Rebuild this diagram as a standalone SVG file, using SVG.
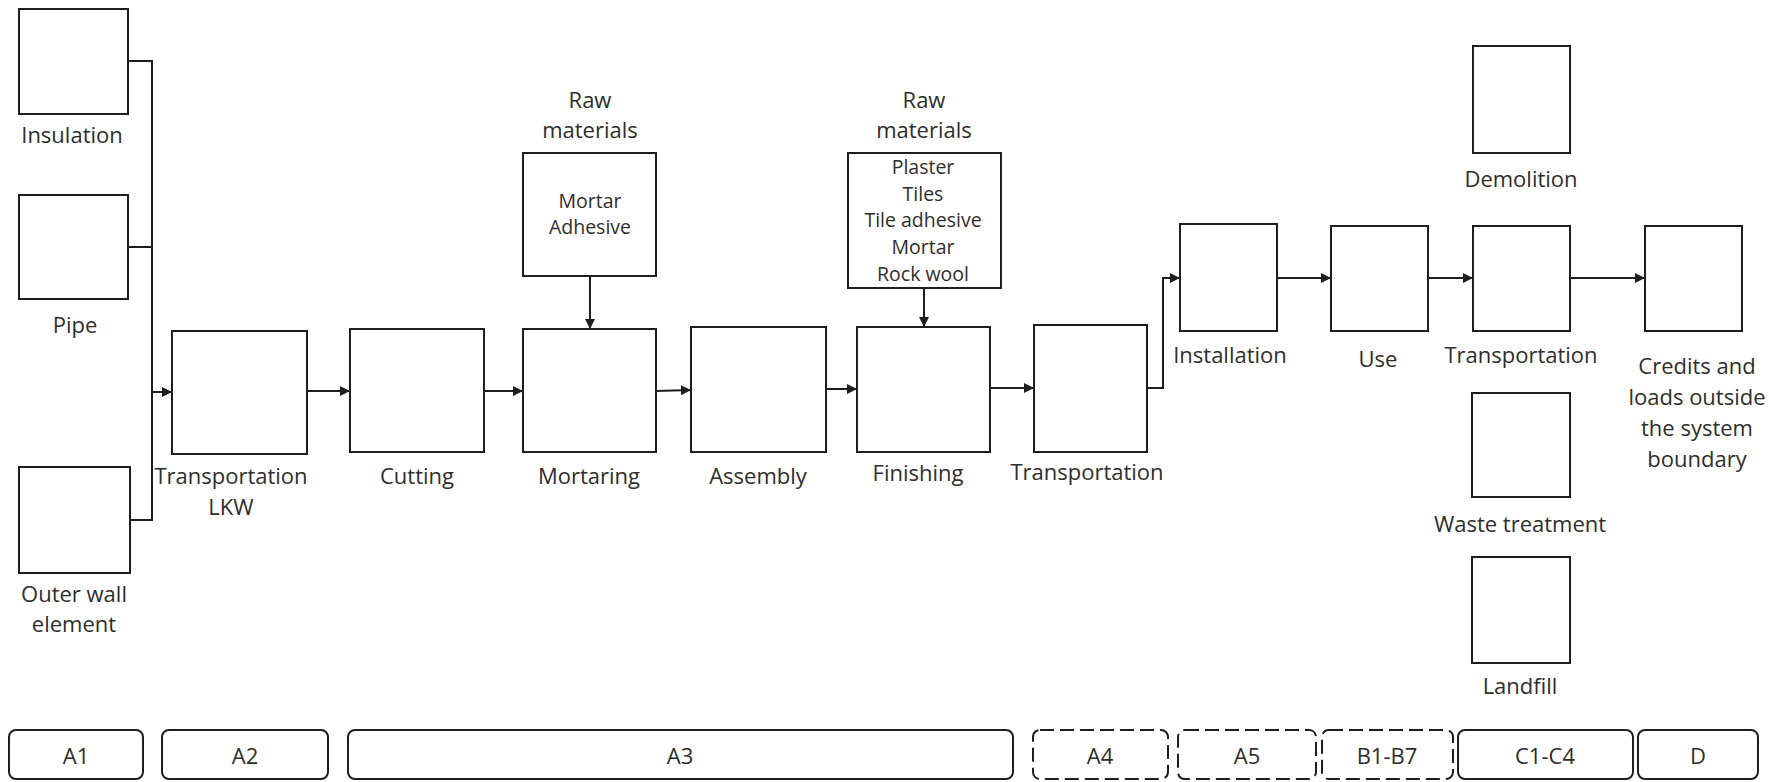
<svg xmlns="http://www.w3.org/2000/svg" width="1769" height="782" viewBox="0 0 1769 782">
<style>
.box{fill:#fff;stroke:#1e1e1e;stroke-width:2}
.bar{fill:#fff;stroke:#1e1e1e;stroke-width:2}
.dash{fill:#fff;stroke:#1e1e1e;stroke-width:2;stroke-dasharray:14 6}
.lbl{font-family:"Open Sans","Liberation Sans",sans-serif;font-size:22px;fill:#2e2e2e;text-anchor:middle}
.in{font-family:"Open Sans","Liberation Sans",sans-serif;font-size:19.5px;fill:#2e2e2e;text-anchor:middle}
.con{fill:none;stroke:#1e1e1e;stroke-width:2}
.arr{fill:none;stroke:#1e1e1e;stroke-width:2;marker-end:url(#ah)}
</style>
<defs>
<marker id="ah" viewBox="0 0 10 10" refX="10" refY="5" markerWidth="11" markerHeight="10" markerUnits="userSpaceOnUse" orient="auto">
<path d="M0,0 L10,5 L0,10 z" fill="#1e1e1e"/>
</marker>
</defs>
<rect width="1769" height="782" fill="#fff"/>

<g id="connectors">
<polyline class="con" points="128,61 152,61 152,520 130,520"/>
<line class="con" x1="128" y1="247" x2="152" y2="247"/>
<line class="arr" x1="152" y1="392" x2="172" y2="392"/>
<line class="arr" x1="307" y1="391" x2="350" y2="391"/>
<line class="arr" x1="484" y1="391" x2="523" y2="391"/>
<line class="arr" x1="656" y1="391" x2="691" y2="390"/>
<line class="arr" x1="590" y1="276" x2="590" y2="329"/>
<line class="arr" x1="826" y1="389" x2="857" y2="389"/>
<line class="arr" x1="924" y1="288" x2="924" y2="327"/>
<line class="arr" x1="990" y1="388" x2="1034" y2="388"/>
<polyline class="arr" points="1147,388 1163,388 1163,278 1180,278"/>
<line class="arr" x1="1277" y1="278" x2="1331" y2="278"/>
<line class="arr" x1="1428" y1="278" x2="1473" y2="278"/>
<line class="arr" x1="1570" y1="278" x2="1645" y2="278"/>
</g>

<g id="insulation"><rect class="box" x="19" y="9" width="109" height="105"/><text class="lbl" x="72" y="143">Insulation</text></g>
<g id="pipe"><rect class="box" x="19" y="195" width="109" height="104"/><text class="lbl" x="75" y="333">Pipe</text></g>
<g id="outer-wall"><rect class="box" x="19" y="467" width="111" height="106"/><text class="lbl" x="74" y="602">Outer wall</text><text class="lbl" x="74" y="632">element</text></g>
<g id="transport-lkw"><rect class="box" x="172" y="331" width="135" height="123"/><text class="lbl" x="231" y="484">Transportation</text><text class="lbl" x="231" y="515">LKW</text></g>
<g id="cutting"><rect class="box" x="350" y="329" width="134" height="123"/><text class="lbl" x="417" y="484">Cutting</text></g>
<g id="raw1"><text class="lbl" x="590" y="108">Raw</text><text class="lbl" x="590" y="138">materials</text><rect class="box" x="523" y="153" width="133" height="123"/><text class="in" x="590" y="208">Mortar</text><text class="in" x="590" y="234">Adhesive</text></g>
<g id="mortaring"><rect class="box" x="523" y="329" width="133" height="123"/><text class="lbl" x="589" y="484">Mortaring</text></g>
<g id="assembly"><rect class="box" x="691" y="327" width="135" height="125"/><text class="lbl" x="758" y="484">Assembly</text></g>
<g id="raw2"><text class="lbl" x="924" y="108">Raw</text><text class="lbl" x="924" y="138">materials</text><rect class="box" x="848" y="153" width="153" height="135"/><text class="in" x="923" y="174">Plaster</text><text class="in" x="923" y="201">Tiles</text><text class="in" x="923" y="227">Tile adhesive</text><text class="in" x="923" y="254">Mortar</text><text class="in" x="923" y="281">Rock wool</text></g>
<g id="finishing"><rect class="box" x="857" y="327" width="133" height="125"/><text class="lbl" x="918" y="481">Finishing</text></g>
<g id="transport-a4"><rect class="box" x="1034" y="325" width="113" height="127"/><text class="lbl" x="1087" y="480">Transportation</text></g>
<g id="installation"><rect class="box" x="1180" y="224" width="97" height="107"/><text class="lbl" x="1230" y="363">Installation</text></g>
<g id="use"><rect class="box" x="1331" y="226" width="97" height="105"/><text class="lbl" x="1378" y="367">Use</text></g>
<g id="demolition"><rect class="box" x="1473" y="46" width="97" height="107"/><text class="lbl" x="1521" y="187">Demolition</text></g>
<g id="transport-c"><rect class="box" x="1473" y="226" width="97" height="105"/><text class="lbl" x="1521" y="363">Transportation</text></g>
<g id="waste"><rect class="box" x="1472" y="393" width="98" height="104"/><text class="lbl" x="1520" y="532">Waste treatment</text></g>
<g id="landfill"><rect class="box" x="1472" y="557" width="98" height="106"/><text class="lbl" x="1520" y="694">Landfill</text></g>
<g id="credits"><rect class="box" x="1645" y="226" width="97" height="105"/><text class="lbl" x="1697" y="374">Credits and</text><text class="lbl" x="1697" y="405">loads outside</text><text class="lbl" x="1697" y="436">the system</text><text class="lbl" x="1697" y="467">boundary</text></g>

<g id="stages">
<g id="stage-a1"><rect class="bar" x="9" y="730" width="134" height="49" rx="7"/><text class="lbl" x="76" y="764">A1</text></g>
<g id="stage-a2"><rect class="bar" x="162" y="730" width="166" height="49" rx="7"/><text class="lbl" x="245" y="764">A2</text></g>
<g id="stage-a3"><rect class="bar" x="348" y="730" width="665" height="49" rx="7"/><text class="lbl" x="680" y="764">A3</text></g>
<g id="stage-a4"><rect class="dash" x="1033" y="730" width="135" height="49" rx="7"/><text class="lbl" x="1100" y="764">A4</text></g>
<g id="stage-a5"><rect class="dash" x="1178" y="730" width="138" height="49" rx="7"/><text class="lbl" x="1247" y="764">A5</text></g>
<g id="stage-b"><rect class="dash" x="1322" y="730" width="131" height="49" rx="7"/><text class="lbl" x="1387" y="764">B1-B7</text></g>
<g id="stage-c"><rect class="bar" x="1458" y="730" width="175" height="49" rx="7"/><text class="lbl" x="1545" y="764">C1-C4</text></g>
<g id="stage-d"><rect class="bar" x="1638" y="730" width="120" height="49" rx="7"/><text class="lbl" x="1698" y="764">D</text></g>
</g>
</svg>
